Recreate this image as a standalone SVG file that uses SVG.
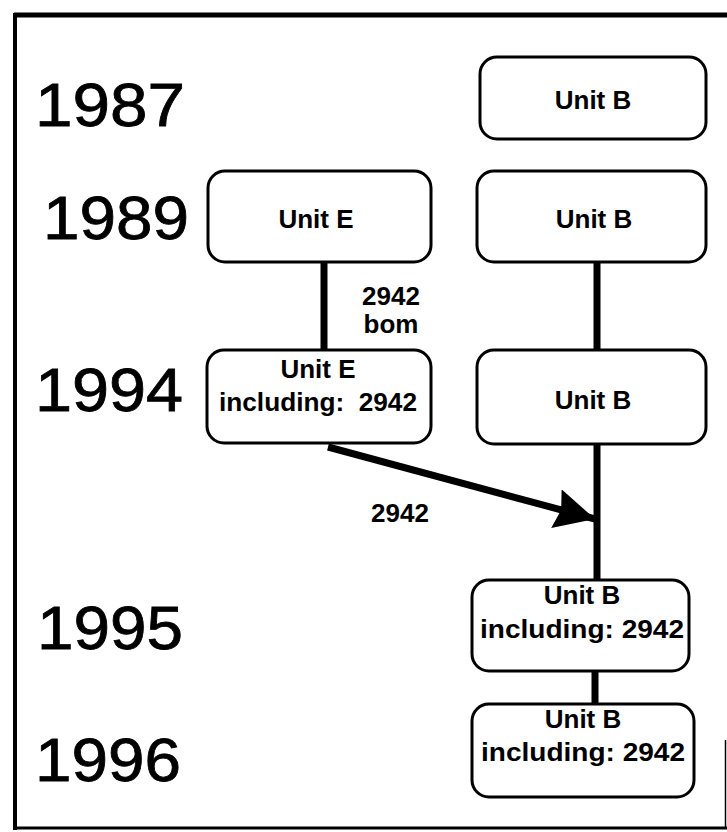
<svg xmlns="http://www.w3.org/2000/svg" width="727" height="832" viewBox="0 0 727 832">
<defs>
<style>
.box{fill:#fff;stroke:#000;stroke-width:3}
.t{font-family:"Liberation Sans",Arial,sans-serif;font-weight:bold;font-size:26px;text-anchor:middle;fill:#000}
.yr{font-family:"Liberation Sans",Arial,sans-serif;font-size:62px;fill:#000;stroke:#000;stroke-width:0.8}
.c{stroke:#000;stroke-width:7;fill:none}
</style>
<marker id="ah" markerUnits="userSpaceOnUse" markerWidth="46" markerHeight="44" refX="40" refY="20" orient="auto">
<path d="M0,0 L40,20 L0,40 L5,20 Z" fill="#000"/>
</marker>
</defs>
<rect width="727" height="832" fill="#fff"/>
<g id="frame" stroke="#000" fill="none">
<line x1="14" y1="15" x2="727" y2="15" stroke-width="5"/>
<line x1="15" y1="13" x2="15" y2="830" stroke-width="4"/>
<line x1="13" y1="828" x2="727" y2="828" stroke-width="3"/>
<line x1="725.5" y1="740" x2="725.5" y2="828" stroke-width="1.5"/>
</g>
<g id="years">
<text class="yr" x="35" y="126" textLength="150" lengthAdjust="spacingAndGlyphs">1987</text>
<text class="yr" x="43" y="239" textLength="146" lengthAdjust="spacingAndGlyphs">1989</text>
<text class="yr" x="35" y="411" textLength="148" lengthAdjust="spacingAndGlyphs">1994</text>
<text class="yr" x="37" y="649" textLength="146" lengthAdjust="spacingAndGlyphs">1995</text>
<text class="yr" x="35" y="781" textLength="146" lengthAdjust="spacingAndGlyphs">1996</text>
</g>
<g id="connectors">
<line class="c" x1="324" y1="262" x2="324" y2="351" stroke-width="8"/>
<line class="c" x1="597" y1="262" x2="597" y2="351" stroke-width="6"/>
<line class="c" x1="597" y1="444" x2="597" y2="581" stroke-width="6"/>
<line class="c" x1="595" y1="671" x2="595" y2="705"/>
<line class="c" x1="328" y1="447" x2="595" y2="519" stroke-width="8" marker-end="url(#ah)"/>
<text class="t" x="400" y="522" font-size="27">2942</text>
<text class="t" x="391" y="305" font-size="27">2942</text>
<text class="t" x="391" y="333" font-size="27">bom</text>
</g>
<g id="n1987B">
<rect class="box" x="480" y="57" width="226" height="82" rx="17"/>
<text class="t" x="593" y="109">Unit B</text>
</g>
<g id="n1989E">
<rect class="box" x="208" y="171" width="223" height="91" rx="17"/>
<text class="t" x="316" y="228">Unit E</text>
</g>
<g id="n1989B">
<rect class="box" x="477" y="171" width="229" height="91" rx="17"/>
<text class="t" x="594" y="228">Unit B</text>
</g>
<g id="n1994E">
<rect class="box" x="207" y="350" width="224" height="93" rx="17"/>
<text class="t" x="318" y="378">Unit E</text>
<text class="t" x="318" y="411" xml:space="preserve" textLength="198" lengthAdjust="spacingAndGlyphs">including:  2942</text>
</g>
<g id="n1994B">
<rect class="box" x="477" y="350" width="229" height="94" rx="17"/>
<text class="t" x="593" y="409">Unit B</text>
</g>
<g id="n1995B">
<rect class="box" x="472" y="580" width="217" height="91" rx="17"/>
<text class="t" x="582" y="604">Unit B</text>
<text class="t" x="582" y="638" textLength="204" lengthAdjust="spacingAndGlyphs">including: 2942</text>
</g>
<g id="n1996B">
<rect class="box" x="472" y="704" width="222" height="93" rx="17"/>
<text class="t" x="583" y="728">Unit B</text>
<text class="t" x="583" y="761" textLength="204" lengthAdjust="spacingAndGlyphs">including: 2942</text>
</g>
</svg>
